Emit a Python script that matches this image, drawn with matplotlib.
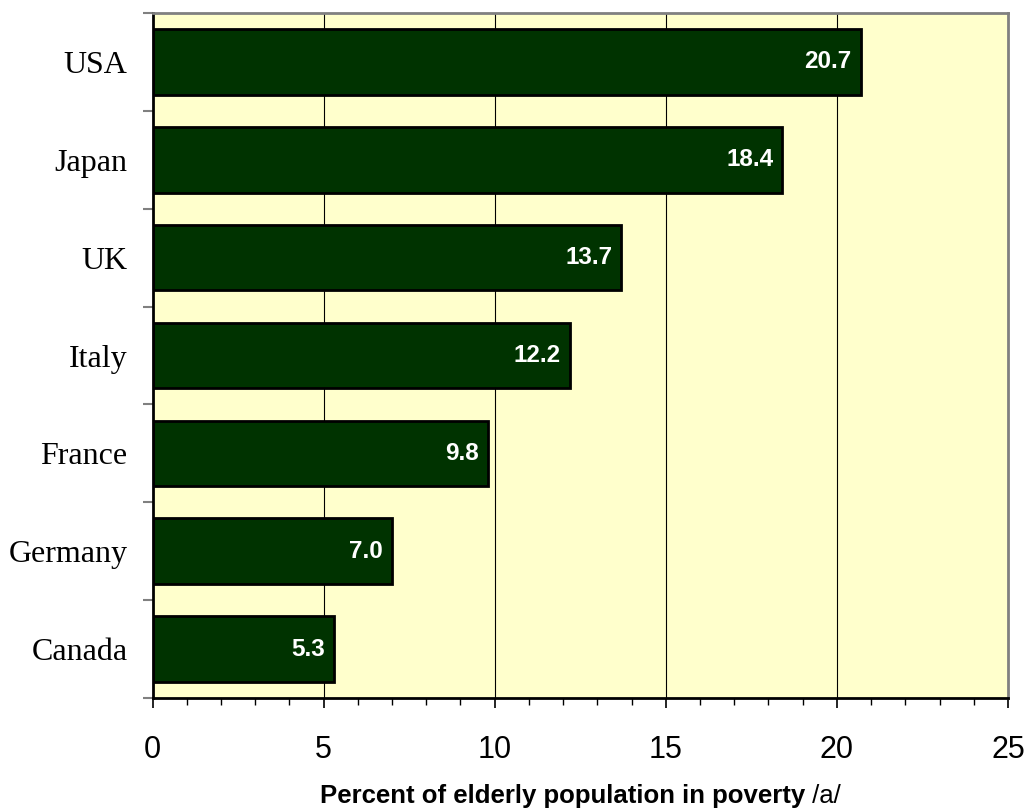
import matplotlib
matplotlib.use("Agg")
import matplotlib.pyplot as plt
from matplotlib.ticker import MultipleLocator
import numpy as np

# Elderly poverty rates by country (percent)
countries = ["USA", "Japan", "UK", "Italy", "France", "Germany", "Canada"]
poverty_rates = [20.7, 18.4, 13.7, 12.2, 9.8, 7.0, 5.3]
x_ticks = [0, 5, 10, 15, 20, 25]

fig = plt.figure(figsize=(10.31, 8.08), dpi=100)
ax = fig.add_axes([152.5 / 1031, 1 - 698 / 808, (1008 - 152.5) / 1031, (698 - 13) / 808])
ax.set_facecolor("#FFFFCC")

n = len(countries)
y_pos = np.arange(n)[::-1]  # USA on top

ax.set_xlim(0, 25)
ax.set_ylim(-0.5, n - 0.5)

# vertical gridlines at major ticks
for xv in x_ticks[1:-1]:
    ax.axvline(xv, color="#000000", linewidth=0.8, zorder=1)

ax.barh(y_pos, poverty_rates, height=0.67, color="#003300",
        edgecolor="#000000", linewidth=2.0, zorder=3)

# value labels inside the bar ends
for yv, val in zip(y_pos, poverty_rates):
    ax.annotate(f"{val:.1f}", xy=(val, yv), xytext=(-9, 0),
                textcoords="offset pixels",
                ha="right", va="center", color="white",
                fontsize=17.5, fontweight="bold", family="Liberation Sans",
                zorder=4)

# axes frame
for side in ("top", "right"):
    ax.spines[side].set_color("#808080")
    ax.spines[side].set_linewidth(2.0)
for side in ("left", "bottom"):
    ax.spines[side].set_color("#000000")
    ax.spines[side].set_linewidth(2.0)
for s in ax.spines.values():
    s.set_zorder(5)

# x axis ticks
ax.set_xticks(x_ticks)
ax.set_xticklabels([str(v) for v in x_ticks], family="Liberation Sans", fontsize=22)
ax.xaxis.set_minor_locator(MultipleLocator(1))
ax.tick_params(axis="x", which="major", direction="out", length=7, width=1.2,
               color="#000000", pad=20)
ax.tick_params(axis="x", which="minor", direction="out", length=5, width=1.0,
               color="#000000")

# y axis: ticks at category boundaries, labels at centres
ax.set_yticks(np.arange(-0.5, n, 1.0))
ax.set_yticklabels([])
ax.tick_params(axis="y", which="major", direction="out", length=7, width=1.5,
               color="#808080")
ax.set_yticks(y_pos, minor=True)
ax.set_yticklabels(countries, minor=True, family="Liberation Serif", fontsize=23)
ax.tick_params(axis="y", which="minor", length=0, pad=18)

# x axis title: bold text followed by a regular-weight note
fig.canvas.draw()
renderer = fig.canvas.get_renderer()
bold_part = "Percent of elderly population in poverty"
note_part = " /a/"
t1 = fig.text(0, 0, bold_part, fontsize=18.5, fontweight="bold",
              family="Liberation Sans", va="baseline", ha="left")
t2 = fig.text(0, 0, note_part, fontsize=18.5, family="Liberation Sans",
              va="baseline", ha="left")
w1 = t1.get_window_extent(renderer).width
w2 = t2.get_window_extent(renderer).width
ax_bb = ax.get_window_extent(renderer)
center_x = (ax_bb.x0 + ax_bb.x1) / 2
start_x = center_x - (w1 + w2) / 2
base_y = 808 - 803
t1.set_position((start_x / 1031, base_y / 808))
t2.set_position(((start_x + w1) / 1031, base_y / 808))

fig.savefig("out.png", dpi=100, facecolor="white")
